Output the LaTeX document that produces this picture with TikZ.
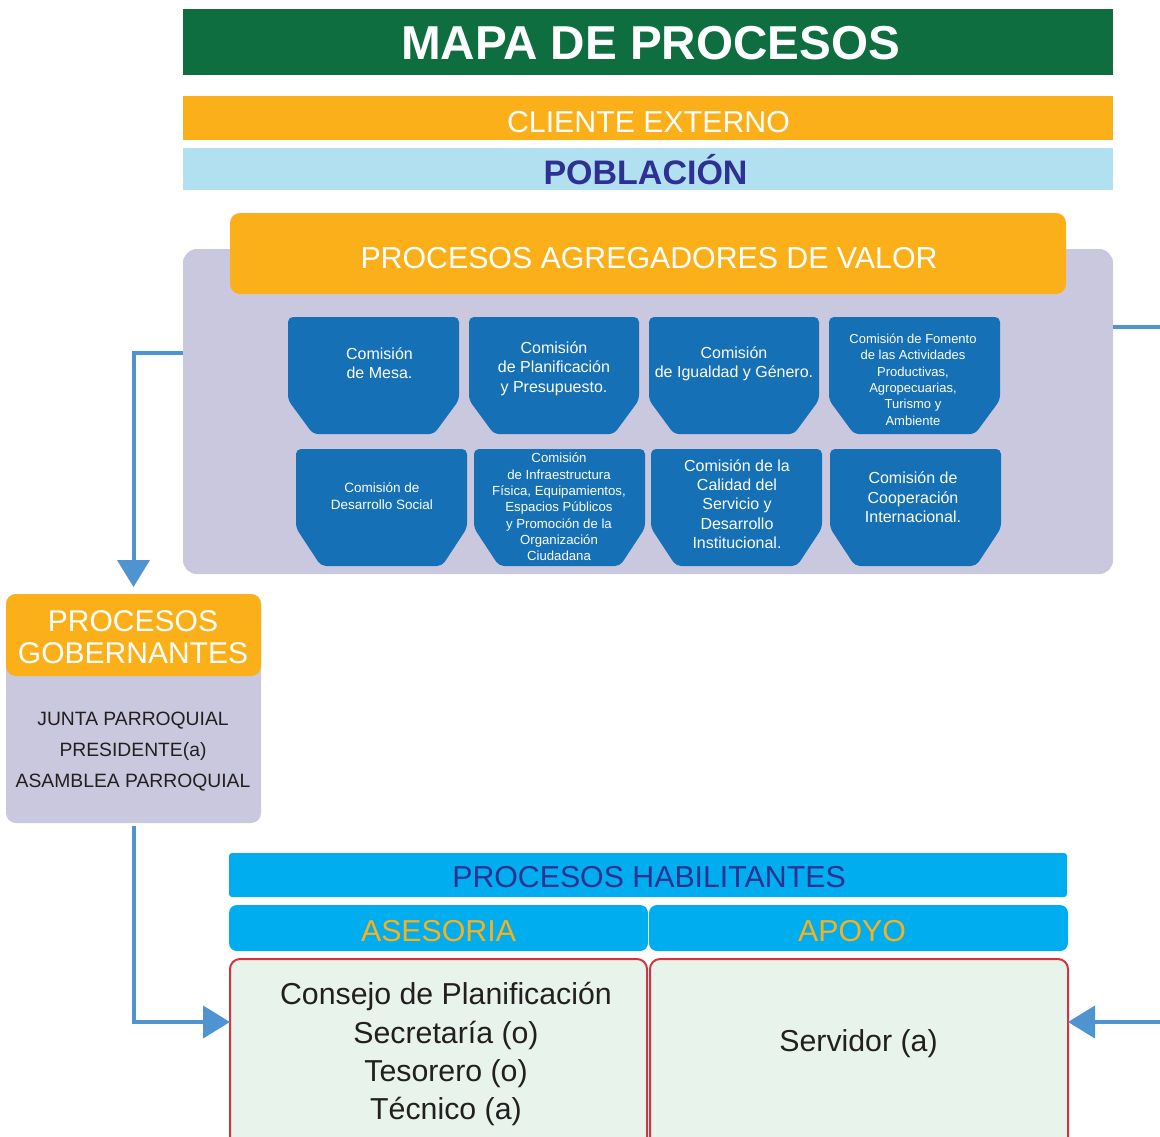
\documentclass[tikz,border=0pt]{standalone}
\usepackage{fontspec}
\setmainfont{Liberation Sans}
\usetikzlibrary{arrows.meta}
\definecolor{tgreen}{RGB}{15,110,63}
\definecolor{torange}{RGB}{251,176,26}
\definecolor{tlblue}{RGB}{177,224,241}
\definecolor{tdblue}{RGB}{46,49,146}
\definecolor{tgrey}{RGB}{201,200,223}
\definecolor{cblue}{RGB}{21,112,181}
\definecolor{ablue}{RGB}{79,148,208}
\definecolor{tcyan}{RGB}{0,174,239}
\definecolor{tlgreen}{RGB}{231,243,235}
\definecolor{tred}{RGB}{208,53,63}
\definecolor{tdark}{RGB}{35,31,32}
\newcommand\combox[5]{%
  \fill[cblue, rounded corners=5pt] ({#1+25},#4) -- (#1,{#4-#5}) -- (#1,#2) -- (#3,#2) -- (#3,{#4-#5}) -- ({#3-25},#4) -- cycle;}
\newcommand\fsz[2]{\fontsize{#1}{#2}\selectfont}
\begin{document}
\begin{tikzpicture}[x=1pt,y=-1pt,
  panelbox/.style={inner sep=0, outer sep=0},
  bigtxt/.style={anchor=base, inner sep=0, font=\fsz{30.3}{36}},
  ctext/.style={text=white, align=center, inner sep=0},
  arr/.style={draw=ablue, line width=4pt, -{Triangle[width=32pt,length=27pt]}},
  conn/.style={draw=ablue, line width=4pt}]
\clip (0,0) rectangle (1160,1136);
\fill[white] (0,0) rectangle (1160,1136);

% top bars
\node[panelbox, fill=tgreen, minimum width=930pt, minimum height=66pt] (titlebar) at (648,42) {};
\node[anchor=base, inner sep=0, text=white, font=\bfseries\fsz{47.6}{56}] (title) at (650.5,59) {MAPA DE PROCESOS};
\node[panelbox, fill=torange, minimum width=930pt, minimum height=44pt] (clibar) at (648,118) {};
\node[bigtxt, text=white] (cli) at (648.5,132) {CLIENTE EXTERNO};
\node[panelbox, fill=tlblue, minimum width=930pt, minimum height=42pt] (pobbar) at (648,169) {};
\node[anchor=base, inner sep=0, text=tdblue, font=\bfseries\fsz{34}{40}] (pob) at (645.5,184) {POBLACIÓN};

% agregadores panel
\node[panelbox, fill=tgrey, rounded corners=14pt, minimum width=930pt, minimum height=325pt] (panel) at (648,411.5) {};
\node[panelbox, fill=torange, rounded corners=10pt, minimum width=836pt, minimum height=81pt] (agreg) at (648,253.5) {};
\node[bigtxt, text=white] (agregt) at (649,268) {PROCESOS AGREGADORES DE VALOR};

\combox{288}{317}{459}{434}{34}
\combox{469}{317}{639}{434}{34}
\combox{649}{317}{819}{434}{34}
\combox{829}{317}{1000}{434}{34}
\combox{296}{449}{467}{566}{38}
\combox{474}{449}{645}{566}{38}
\combox{651}{449}{822}{566}{38}
\combox{830}{449}{1001}{566}{38}

\node[ctext, font=\fsz{16}{19}] (c1) at (379.5,363.5) {Comisión\\de Mesa.};
\node[ctext, font=\fsz{16}{19.5}] (c2) at (554,368.5) {Comisión\\de Planificación\\y Presupuesto.};
\node[ctext, font=\fsz{16}{19}] (c3) at (734,363.5) {Comisión\\de Igualdad y Género.};
\node[ctext, font=\fsz{13}{16.4}] (c4) at (913,379.5) {Comisión de Fomento\\de las Actividades\\Productivas,\\Agropecuarias,\\Turismo y\\Ambiente};
\node[ctext, font=\fsz{13.5}{17}] (c5) at (382,496.5) {Comisión de\\Desarrollo Social};
\node[ctext, font=\fsz{13.2}{16.3}] (c6) at (559,507) {Comisión\\de Infraestructura\\Física, Equipamientos,\\Espacios Públicos\\y Promoción de la\\Organización\\Ciudadana};
\node[ctext, font=\fsz{16}{19.4}] (c7) at (737,504) {Comisión de la\\Calidad del\\Servicio y\\Desarrollo\\Institucional.};
\node[ctext, font=\fsz{16}{19.5}] (c8) at (913,497.5) {Comisión de\\Cooperación\\Internacional.};

% gobernantes
\node[panelbox, fill=tgrey, rounded corners=10pt, minimum width=255pt, minimum height=229pt] (gob) at (133.5,708.5) {};
\node[panelbox, fill=torange, rounded corners=10pt, minimum width=255pt, minimum height=82pt] (gobhead) at (133.5,635) {};
\node[anchor=base, inner sep=0, text=white, font=\fsz{30}{32}] (gobt1) at (133,631) {PROCESOS};
\node[anchor=base, inner sep=0, text=white, font=\fsz{30}{32}] (gobt2) at (133,663) {GOBERNANTES};
\node[anchor=base, inner sep=0, text=tdark, font=\fsz{19.3}{24}] (g1) at (133,725) {JUNTA PARROQUIAL};
\node[anchor=base, inner sep=0, text=tdark, font=\fsz{19.3}{24}] (g2) at (133,756) {PRESIDENTE(a)};
\node[anchor=base, inner sep=0, text=tdark, font=\fsz{19.3}{24}] (g3) at (133,787) {ASAMBLEA PARROQUIAL};

% habilitantes
\node[panelbox, fill=tcyan, rounded corners=3pt, minimum width=838pt, minimum height=44pt] (habil) at (648,875) {};
\node[bigtxt, text=tdblue] (habilt) at (649,887) {PROCESOS HABILITANTES};
\node[panelbox, fill=tcyan, rounded corners=8pt, minimum width=419pt, minimum height=46pt] (ases) at (438.5,928) {};
\node[bigtxt, text=torange] (asest) at (438.5,941) {ASESORIA};
\node[panelbox, fill=tcyan, rounded corners=8pt, minimum width=419pt, minimum height=46pt] (apoyo) at (858.5,928) {};
\node[bigtxt, text=torange] (apoyot) at (852,941) {APOYO};
\node[panelbox, fill=tlgreen, draw=tred, line width=2pt, rounded corners=10pt, minimum width=417pt, minimum height=200pt] (asesbox) at (438.5,1059) {};
\node[panelbox, fill=tlgreen, draw=tred, line width=2pt, rounded corners=10pt, minimum width=418pt, minimum height=200pt] (apoyobox) at (859,1059) {};
\node[bigtxt, text=tdark] (a1) at (446,1004) {Consejo de Planificación};
\node[bigtxt, text=tdark] (a2) at (446,1043) {Secretaría (o)};
\node[bigtxt, text=tdark] (a3) at (446,1081) {Tesorero (o)};
\node[bigtxt, text=tdark] (a4) at (446,1119) {Técnico (a)};
\node[bigtxt, text=tdark] (s1) at (858.5,1051) {Servidor (a)};

% connectors
\coordinate (rightA) at (1160,327);
\coordinate (rightB) at (1160,1022);
\coordinate (leftA) at (133.5,353);
\coordinate (leftB) at (133.5,1022);
\draw[arr] (panel.west |- leftA) -- (leftA) -- (leftA |- 0,587);
\draw[arr] (leftB |- 0,826) -- (leftB) -- (asesbox.west |- leftB);
\draw[conn] (panel.east |- rightA) -- (rightA);
\draw[arr] (rightB) -- (apoyobox.east |- rightB);
\end{tikzpicture}
\end{document}
